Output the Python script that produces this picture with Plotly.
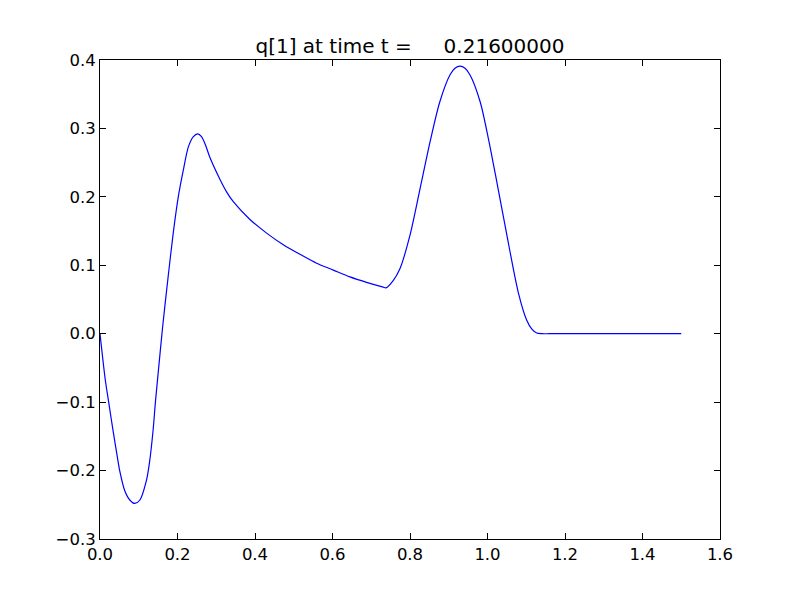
import plotly.graph_objects as go

x_vals = [0.000, 0.0138, 0.0224, 0.0335, 0.0447, 0.0508, 0.0637, 0.077, 0.0895,
          0.103, 0.120, 0.128, 0.137, 0.143, 0.150, 0.162, 0.176, 0.189, 0.202,
          0.215, 0.228, 0.241, 0.252, 0.262, 0.272, 0.284, 0.310, 0.327, 0.344, 0.387,
          0.430, 0.473, 0.516, 0.559, 0.602, 0.645, 0.688, 0.731, 0.738, 0.757,
          0.774, 0.800, 0.826, 0.852, 0.877, 0.903, 0.916, 0.929, 0.942, 0.955,
          0.981, 1.002, 1.024, 1.050, 1.080, 1.101, 1.114, 1.127, 1.140, 1.160,
          1.200, 1.300, 1.400, 1.500]
q_vals = [0.000, -0.068, -0.100, -0.141, -0.180, -0.200, -0.229, -0.243, -0.248,
          -0.243, -0.214, -0.187, -0.141, -0.100, -0.058, 0.012, 0.084, 0.147, 0.200,
          0.239, 0.273, 0.288, 0.292, 0.288, 0.276, 0.257, 0.225, 0.207, 0.193, 0.167,
          0.147, 0.130, 0.116, 0.103, 0.093, 0.083, 0.075, 0.068, 0.067, 0.078,
          0.095, 0.144, 0.212, 0.281, 0.339, 0.378, 0.388, 0.391, 0.388, 0.378,
          0.339, 0.286, 0.222, 0.144, 0.059, 0.020, 0.007, 0.001, 0.000, 0.000,
          0.000, 0.000, 0.000, 0.000]

x_ticks = [0.0, 0.2, 0.4, 0.6, 0.8, 1.0, 1.2, 1.4, 1.6]
y_ticks = [-0.3, -0.2, -0.1, 0.0, 0.1, 0.2, 0.3, 0.4]
x_labels = ["0.0", "0.2", "0.4", "0.6", "0.8", "1.0", "1.2", "1.4", "1.6"]
y_labels = ["\u22120.3", "\u22120.2", "\u22120.1", "0.0", "0.1", "0.2", "0.3", "0.4"]
title_text = "q[1] at time t =\u00a0\u00a0\u00a0\u00a0\u00a00.21600000"

fig = go.Figure()
fig.add_trace(go.Scatter(x=x_vals, y=q_vals, mode="lines",
                         line=dict(color="#0000ff", width=1.2, shape="spline", smoothing=0.8),
                         showlegend=False, hoverinfo="skip"))

axis_common = dict(showgrid=False, zeroline=False, showline=True, linecolor="black",
                   linewidth=1, mirror="allticks", ticks="inside", ticklen=6,
                   tickcolor="black", tickwidth=1, automargin=False,
                   tickfont=dict(family="DejaVu Sans", size=16.5, color="black"))

W, H = 784, 584
fig.update_layout(
    width=W, height=H,
    paper_bgcolor="white", plot_bgcolor="white",
    margin=dict(l=92, r=72, t=52, b=53, autoexpand=False),
    title=dict(text=title_text, x=0.5, xref="paper", xanchor="center",
               y=1 - 38 / H, yref="container", yanchor="middle",
               font=dict(family="DejaVu Sans", size=20, color="black")),
    xaxis=dict(range=[0, 1.6], tickvals=x_ticks, ticktext=x_labels, **axis_common),
    yaxis=dict(range=[-0.3, 0.4], tickvals=y_ticks, ticktext=y_labels, **axis_common),
)

fig.write_html("out.html")
